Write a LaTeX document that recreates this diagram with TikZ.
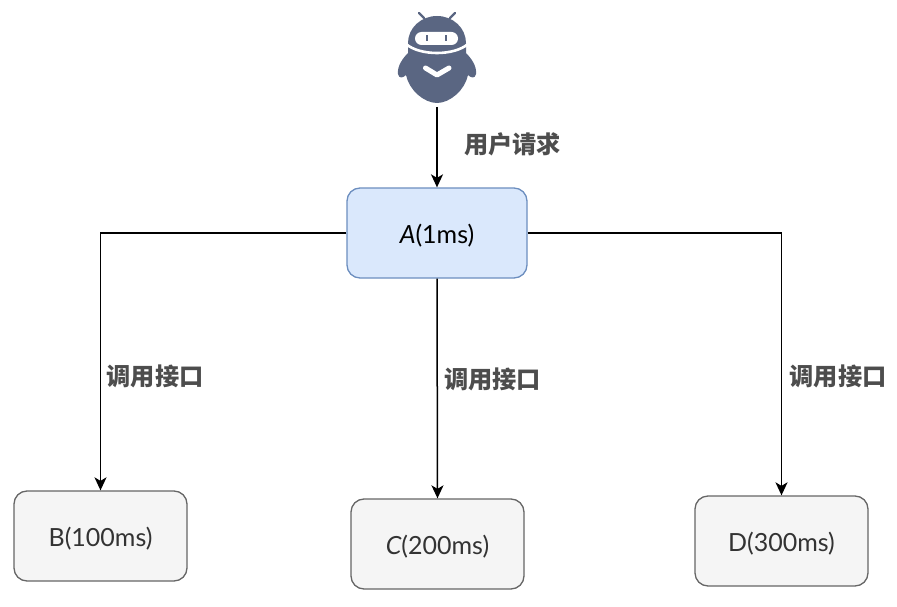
\documentclass[tikz,border=0pt]{standalone}
\usepackage{fontspec}
\setmainfont{Lato}
\newfontfamily\cjk{Noto Sans CJK SC}
\usetikzlibrary{arrows.meta}
\definecolor{robot}{HTML}{5A6682}
\definecolor{labelgray}{HTML}{4D4D4D}
\definecolor{Ablue}{HTML}{6C8EBF}
\definecolor{Afill}{HTML}{DAE8FC}
\definecolor{Ggray}{HTML}{666666}
\definecolor{Gfill}{HTML}{F5F5F5}
\definecolor{Gtext}{HTML}{333333}
\tikzset{
  boxbase/.style={draw,rounded corners=13pt,minimum width=173pt,minimum height=90pt,line width=1.3pt,font=\fontsize{25}{29}\selectfont,inner sep=0pt,text height=26pt,text depth=6pt},
  abox/.style={boxbase,draw=Ablue,fill=Afill,minimum width=180pt,text=black},
  greybox/.style={boxbase,draw=Ggray,fill=Gfill,text=Gtext},
  conn/.style={draw=black,line width=1.5pt,-{Stealth[length=13pt,width=12pt,inset=3.5pt]}},
  lbl/.style={text=labelgray,font=\cjk\bfseries\fontsize{24.2}{28}\selectfont,inner sep=0pt}
}
\begin{document}
\begin{tikzpicture}[x=1pt,y=-1pt]
\useasboundingbox (0,0) rectangle (897,607);
% robot
\draw[robot,line width=2.4pt,line cap=round] (424,18)--(419,13) (450,18)--(455,13);
\fill[robot] (437,16) .. controls (421,16) and (408,28) .. (408,43)
  -- (408,53) .. controls (403,58) and (397,66) .. (398,74)
  .. controls (399,79) and (403,78) .. (406,75)
  .. controls (409,90) and (424,103) .. (437,103)
  .. controls (450,103) and (465,90) .. (468,75)
  .. controls (471,78) and (475,79) .. (476,74)
  .. controls (477,66) and (471,58) .. (466,53)
  -- (466,43) .. controls (466,28) and (453,16) .. (437,16) -- cycle;
\fill[white,rounded corners=6.5pt] (415,32) rectangle (458,45);
\fill[robot] (426.2,35) rectangle (428.2,41);
\fill[robot] (445.2,35) rectangle (447.2,41);
\draw[white,line width=2.6pt] (406,44) .. controls (420,56) and (454,56) .. (468,44);
\draw[white,line width=5pt,line cap=round,line join=round] (425.5,68)--(437,75)--(449,68);
\coordinate (user) at (437,107);
% boxes
\node[abox] (a) at (437,233) {\itshape A\upshape(1ms)};
\node[greybox] (b) at (100.5,536) {B(100ms)};
\node[greybox] (c) at (437.5,544) {\itshape C\upshape(200ms)};
\node[greybox] (d) at (781.5,541) {D(300ms)};
% connectors
\draw[conn] (user) -- (a.north);
\draw[conn] (a.west) -| (b.north);
\draw[conn] (a.south) -- (c.north);
\draw[conn] (a.east) -| (d.north);
% labels
\node[lbl] (l1) at (512.5,144.5) {用户请求};
\node[lbl] (l2) at (155,376.5) {调用接口};
\node[lbl] (l3) at (492.5,379.5) {调用接口};
\node[lbl] (l4) at (838,376.5) {调用接口};
\end{tikzpicture}
\end{document}
